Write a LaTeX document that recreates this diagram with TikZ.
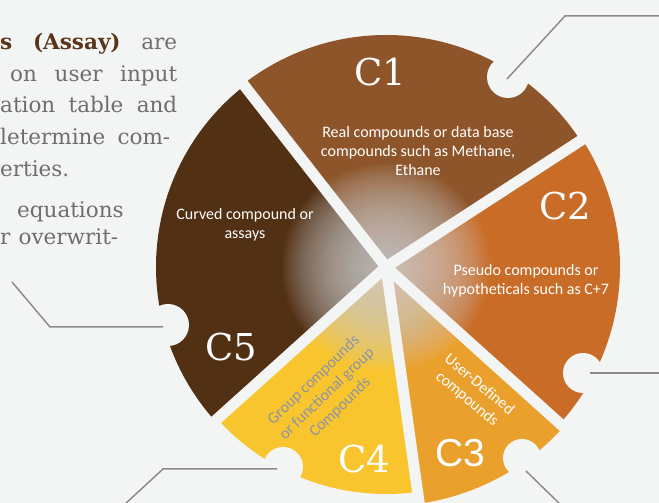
\documentclass[tikz,border=0pt]{standalone}
\usepackage{fontspec}
\setmainfont{DejaVu Serif}
\newfontfamily\labelfont{Carlito}
\newfontfamily\bigfont{DejaVu Serif}
\newfontfamily\bigsans{Liberation Sans}
\definecolor{bg}{HTML}{F3F4F4}
\definecolor{cone}{HTML}{8D5529}
\definecolor{ctwo}{HTML}{C96C27}
\definecolor{cthree}{HTML}{EAA02D}
\definecolor{cfour}{HTML}{F8C52F}
\definecolor{cfive}{HTML}{523014}
\definecolor{glowcol}{HTML}{D4D4D4}
\definecolor{leadcol}{HTML}{8A8A8A}
\definecolor{bodytxt}{HTML}{6E6E6E}
\definecolor{boldbrown}{HTML}{5B3418}
\definecolor{cfourtxt}{HTML}{8C93A8}
\tikzset{
  gapline/.style={draw=bg, line width=11pt},
  notchhole/.style={fill=bg},
  glowring/.style={fill=glowcol, opacity=0.04},
  leader/.style={draw=leadcol, line width=1.5pt},
  leadhi/.style={draw=white, line width=2pt},
  biglbl/.style={text=white, inner sep=0pt, font=\bigfont\fontsize{37}{37}\selectfont},
  inlbl/.style={text=white, inner sep=0pt, align=center, font=\labelfont\fontsize{16}{19}\selectfont},
  bodyline/.style={anchor=base west, inner sep=0pt, text=bodytxt, font=\fontsize{21.5}{31}\selectfont}
}
\begin{document}
\begin{tikzpicture}[x=1pt, y=1pt]
\useasboundingbox (0,0) rectangle (659,503);
\fill[bg] (0,0) rectangle (659,503);
\coordinate (O) at (386,236);
% sectors
\fill[cone]   (O) -- ++(33:232)  arc[start angle=33,  end angle=128, radius=232] -- cycle;
\fill[cfive]  (O) -- ++(128:230) arc[start angle=128, end angle=222, radius=230] -- cycle;
\fill[cfour]  (O) -- ++(222:227) arc[start angle=222, end angle=278, radius=227] -- cycle;
\fill[cthree] (O) -- ++(278:239) arc[start angle=278, end angle=318, radius=239] -- cycle;
\fill[ctwo]   (O) -- ++(318:234) arc[start angle=318, end angle=393, radius=234] -- cycle;
% central glow
\foreach \r in {104,102,...,2} {
  \fill[glowring] (O) circle (\r);
}
% gaps
\foreach \a in {33,128,222,278,318} {
  \draw[gapline] (O) -- ++(\a:260);
}
% notches
\coordinate (n1) at (508,426);
\coordinate (n2) at (583,130);
\coordinate (n3) at (522,45);
\coordinate (n4) at (283,36);
\coordinate (n5) at (168,178);
\fill[notchhole] (n1) circle (21);
\fill[notchhole] (n2) circle (20);
\fill[notchhole] (n3) circle (19);
\fill[notchhole] (n4) circle (20);
\fill[notchhole] (n5) circle (21);
% leader lines
\coordinate (l1s) at (507,424);
\coordinate (l1b) at (565,487);
\coordinate (l1e) at (662,487);
\coordinate (l2s) at (590,130);
\coordinate (l2e) at (662,130);
\coordinate (l3s) at (526,32);
\coordinate (l3e) at (563,-4);
\coordinate (l4s) at (277,34);
\coordinate (l4b) at (163,34);
\coordinate (l4e) at (124,-2);
\coordinate (l5s) at (163,176);
\coordinate (l5b) at (50,176);
\coordinate (l5e) at (12,221);
\begin{scope}[yshift=-1.6pt]
\draw[leadhi] (l1s) -- (l1b) -- (l1e);
\draw[leadhi] (l2s) -- (l2e);
\draw[leadhi] (l3s) -- (l3e);
\draw[leadhi] (l4s) -- (l4b) -- (l4e);
\draw[leadhi] (l5s) -- (l5b) -- (l5e);
\end{scope}
\draw[leader] (l1s) -- (l1b) -- (l1e);
\draw[leader] (l2s) -- (l2e);
\draw[leader] (l3s) -- (l3e);
\draw[leader] (l4s) -- (l4b) -- (l4e);
\draw[leader] (l5s) -- (l5b) -- (l5e);
% big labels
\node[biglbl] (C1) at (380,431) {C1};
\node[biglbl] (C2) at (565,297) {C2};
\node[biglbl, font=\bigsans\fontsize{39}{39}\selectfont] (C3) at (460,50) {C3};
\node[biglbl] (C4) at (364,44) {C4};
\node[biglbl] (C5) at (231,156) {C5};
% inner labels
\node[inlbl] (t1) at (418,352) {Real compounds or data base\\compounds such as Methane,\\Ethane};
\node[inlbl] (t2) at (526,222) {Pseudo compounds or\\hypotheticals such as C+7};
\node[inlbl] (t5) at (245,278) {Curved compound or\\assays};
\node[inlbl, rotate=-40] (t3) at (473,111) {User-Defined\\compounds};
\node[inlbl, rotate=44, text=cfourtxt] (t4) at (327,109) {Group compounds\\or functional group\\Compounds};
% left paragraph
\node[bodyline] (p1) at (0,453) {\makebox[177pt][s]{\textcolor{boldbrown}{\bfseries s} \textcolor{boldbrown}{\bfseries (Assay)} are}};
\node[bodyline] (p2) at (10,421) {\makebox[167pt][s]{on user input}};
\node[bodyline] (p3) at (0,390) {\makebox[177pt][s]{ation table and}};
\node[bodyline] (p4) at (0,358) {\makebox[170pt][s]{letermine com-}};
\node[bodyline] (p5) at (0,326) {erties.};
\node[bodyline] (p6) at (17,285) {equations};
\node[bodyline] (p7) at (0,258) {\makebox[118pt][s]{r overwrit-}};
\end{tikzpicture}
\end{document}
